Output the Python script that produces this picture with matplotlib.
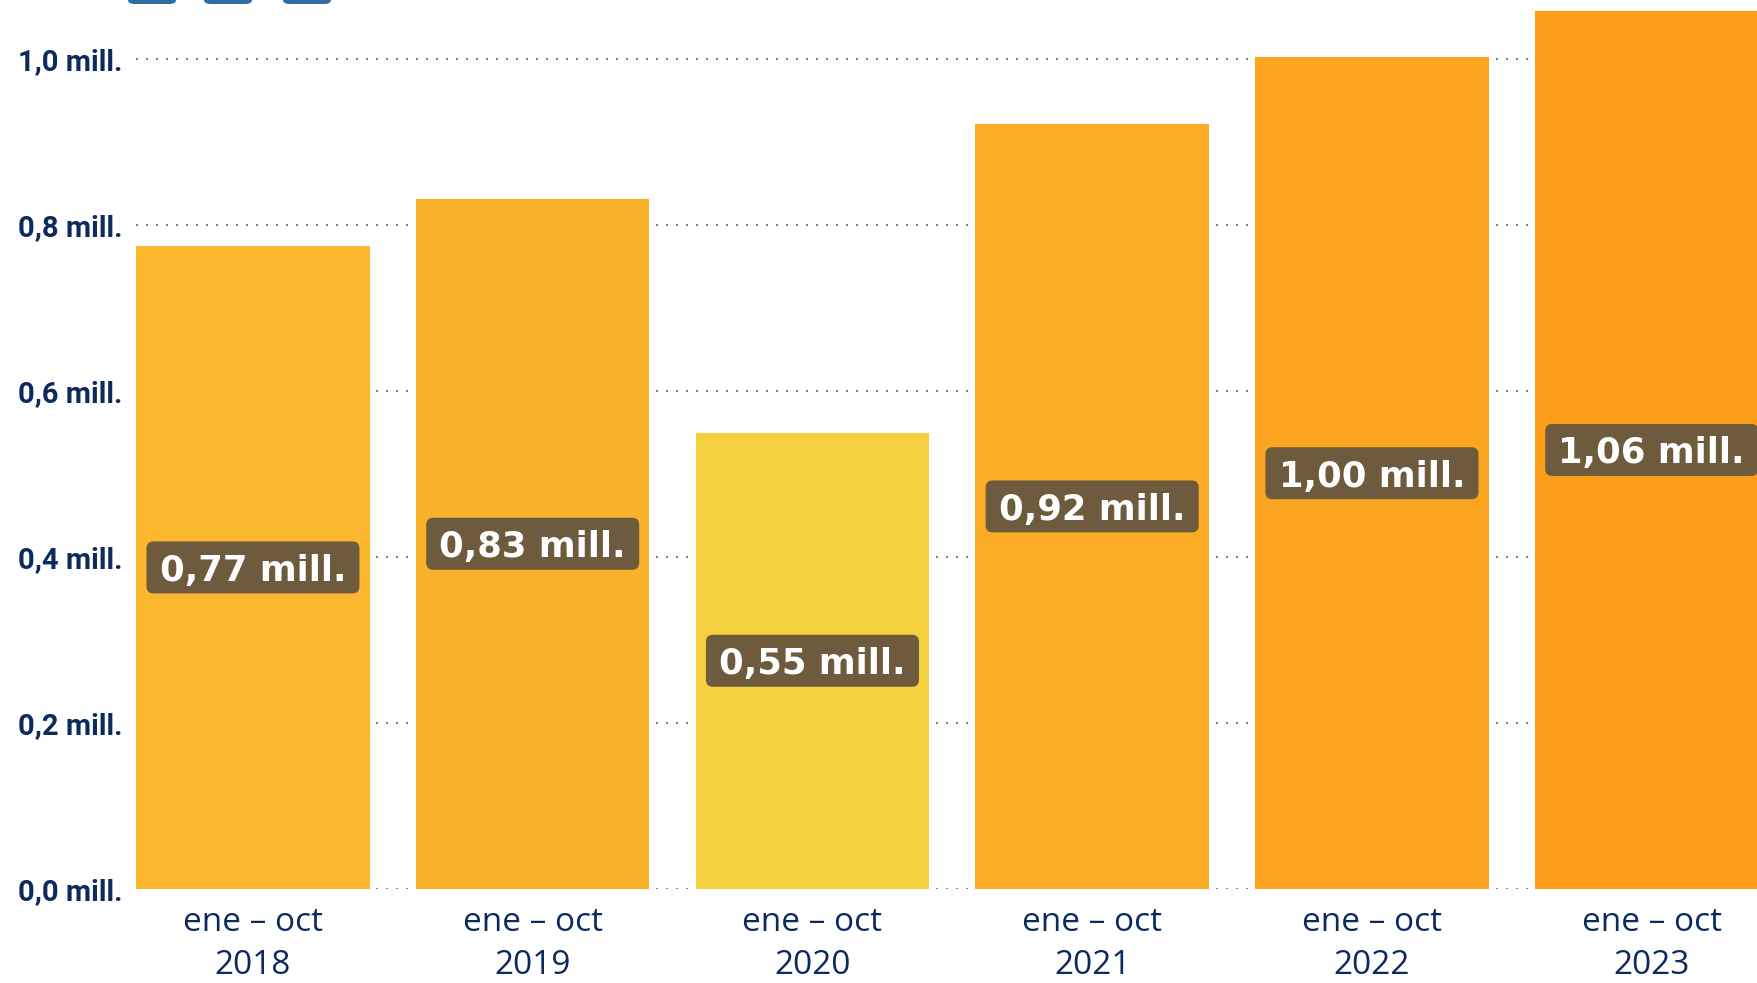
import matplotlib.pyplot as plt
from matplotlib.patches import FancyBboxPatch
from matplotlib.transforms import ScaledTranslation

periods = ["2018", "2019", "2020", "2021", "2022", "2023"]
values = [0.775, 0.832, 0.550, 0.922, 1.002, 1.058]
value_labels = ["0,77 mill.", "0,83 mill.", "0,55 mill.", "0,92 mill.", "1,00 mill.", "1,06 mill."]
bar_colors = ["#FBB82F", "#FAB22A", "#F4D03F", "#FAAC25", "#FBA41F", "#FD9D1A"]
y_ticks = [0.0, 0.2, 0.4, 0.6, 0.8, 1.0]
y_tick_labels = ["0,0 mill.", "0,2 mill.", "0,4 mill.", "0,6 mill.", "0,8 mill.", "1,0 mill."]

navy = "#0D2A5E"

fig = plt.figure(figsize=(17.58, 9.83), dpi=100)
ax = fig.add_axes([136 / 1758, 94 / 983, 1622 / 1758, 888 / 983])

x = list(range(len(periods)))
ax.bar(x, values, width=0.835, color=bar_colors, zorder=2)

# label boxes: fixed size in inches, centred at half the bar height
box_w, box_h = 2.13, 0.52
for xi, v, lab in zip(x, values, value_labels):
    tr = fig.dpi_scale_trans + ScaledTranslation(xi, v / 2, ax.transData)
    ax.add_patch(FancyBboxPatch((-box_w / 2, -box_h / 2), box_w, box_h,
                                boxstyle="round,pad=0,rounding_size=0.07",
                                transform=tr, fc="#6E5A3C", ec="none", zorder=3))
    ax.text(xi, v / 2, lab, ha="center", va="center_baseline", color="white",
            fontsize=25.5, fontweight="bold", family="DejaVu Sans", zorder=4)

ax.set_xlim(-0.418, 5.38)
ax.set_ylim(0, 1.07)

ax.set_yticks(y_ticks)
ax.set_yticklabels(y_tick_labels, fontsize=21, fontweight="bold",
                   family="Roboto", color=navy)
ax.set_xticks(x)
ax.set_xticklabels(["ene \u2013 oct\n" + p for p in periods], fontsize=24,
                   family="Open Sans", color=navy, linespacing=1.42)
ax.tick_params(axis="both", length=0)
ax.tick_params(axis="y", pad=10)
ax.tick_params(axis="x", pad=12)

ax.grid(axis="y", color="#7A8499", linestyle=(0, (1, 3.8)), linewidth=1.5, zorder=0)
for s in ax.spines.values():
    s.set_visible(False)

# cut-off buttons at the top edge
for x0 in [128, 204, 283]:
    fig.patches.append(FancyBboxPatch((x0 / 1758, 979 / 983), 48 / 1758, 20 / 983,
                                      boxstyle="round,pad=0,rounding_size=0.004",
                                      transform=fig.transFigure, fc="#2E6DA4",
                                      ec="none"))

fig.savefig("out.png", dpi=100)
